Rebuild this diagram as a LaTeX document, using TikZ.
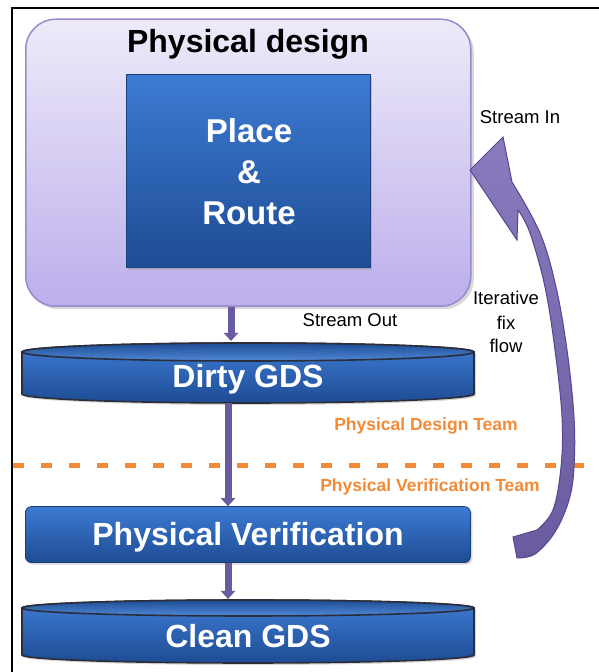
\documentclass[tikz,border=0pt]{standalone}
\usepackage{fontspec}
\setmainfont{Liberation Sans}
\usetikzlibrary{arrows.meta,shadows}
\definecolor{pdtop}{HTML}{EEEAF9}
\definecolor{pdbot}{HTML}{BCAEEB}
\definecolor{pdedge}{HTML}{9A8ACD}
\definecolor{btop}{HTML}{3D7BD3}
\definecolor{bbot}{HTML}{1E4C94}
\definecolor{bedge}{HTML}{1B3F7A}
\definecolor{cedge}{HTML}{2A2E3A}
\definecolor{arrowc}{HTML}{6A5A9F}
\definecolor{arrowlight}{HTML}{8A7BBF}
\definecolor{arrowedge}{HTML}{574790}
\definecolor{orangec}{HTML}{F58A35}
\begin{document}
\begin{tikzpicture}[x=1pt,y=1pt,
  pdbox/.style={draw=pdedge,line width=1.5pt,rounded corners=30pt,top color=pdtop,bottom color=pdbot,
    drop shadow={shadow xshift=3pt,shadow yshift=-3pt,opacity=0.3}},
  bluebox/.style={draw=bedge,line width=0.8pt,top color=btop,bottom color=bbot,
    drop shadow={shadow xshift=2pt,shadow yshift=-2pt,opacity=0.3}},
  cylbody/.style={draw=cedge,line width=1.6pt,top color=btop,bottom color=bbot},
  cyltop/.style={draw=cedge,line width=1.6pt,top color=bbot,bottom color=btop!90!white},
  flowarrow/.style={draw=arrowc,line width=7pt,-{Triangle[width=14pt,length=8pt]}},
  bigtext/.style={font=\fontsize{32}{38}\selectfont\bfseries,text=white,anchor=base},
  titletext/.style={font=\fontsize{32}{38}\selectfont\bfseries,text=black,anchor=base},
  smalltext/.style={font=\fontsize{18.5}{22}\selectfont,text=black,anchor=base},
  teamtext/.style={font=\fontsize{17.5}{20}\selectfont\bfseries,text=orangec,anchor=base}
]
\useasboundingbox (0,0) rectangle (599,672);
\fill[white] (0,0) rectangle (599,672);
% frame
\coordinate (fbl) at (12,0);
\coordinate (ftl) at (12,664);
\coordinate (ftr) at (599,664);
\draw[black,line width=2.5pt] (fbl) -- (ftl) -- (ftr);

% physical design box
\node[pdbox,minimum width=445,minimum height=287,anchor=south west,inner sep=0pt] (pd) at (25,365) {};
\node[titletext] (pdtitle) at (248,619) {Physical design};
\node[bluebox,minimum width=244,minimum height=193,anchor=south west,inner sep=0pt] (pr) at (126,404) {};
\node[bigtext,font=\fontsize{33}{38}\selectfont\bfseries] (pr1) at (249,529) {Place};
\node[bigtext,font=\fontsize{33}{38}\selectfont\bfseries] (pr2) at (249,488) {\&};
\node[bigtext,font=\fontsize{33}{38}\selectfont\bfseries] (pr3) at (249,447) {Route};

% labels
\node[smalltext] (sin) at (520,548) {Stream In};
\node[smalltext] (it1) at (506,367) {Iterative};
\node[smalltext] (it2) at (506,342) {fix};
\node[smalltext] (it3) at (506,319) {flow};
\node[smalltext] (sout) at (350,345) {Stream Out};

% team separator
\coordinate (dl) at (13,206);
\coordinate (dr) at (599,206);
\draw[orangec,line width=5pt,dash pattern=on 11pt off 17pt] (dl) -- (dr);
\node[teamtext] (pdt) at (426,241) {Physical Design Team};
\node[teamtext] (pvt) at (430,180) {Physical Verification Team};

% dirty GDS cylinder
\path[cylbody,drop shadow={shadow xshift=2pt,shadow yshift=-2pt,opacity=0.3}]
  (22,320) -- (22,278) arc[start angle=180,end angle=360,x radius=226,y radius=9]
  -- (474,320) arc[start angle=0,end angle=180,x radius=226,y radius=9] -- cycle;
\path[cyltop] (248,320) ellipse[x radius=226,y radius=9];
\node[bigtext] (dirty) at (248,284) {Dirty GDS};
\coordinate (dirtyin) at (231,331);
\coordinate (dirtyout) at (228,269);

% physical verification box
\node[bluebox,rounded corners=6pt,minimum width=445,minimum height=56,anchor=south west,inner sep=0pt] (pv) at (25,109) {};
\node[bigtext] (pvtext) at (248,126) {Physical Verification};

% clean GDS cylinder
\path[cylbody,drop shadow={shadow xshift=2pt,shadow yshift=-2pt,opacity=0.3}]
  (22,64) -- (22,17) arc[start angle=180,end angle=360,x radius=226,y radius=8]
  -- (474,64) arc[start angle=0,end angle=180,x radius=226,y radius=8] -- cycle;
\path[cyltop] (248,64) ellipse[x radius=226,y radius=8];
\node[bigtext] (clean) at (248,24) {Clean GDS};
\coordinate (cleanin) at (228,73);

% flow arrows
\draw[flowarrow] (pd.south -| dirtyin) -- (dirtyin);
\draw[flowarrow] (dirtyout) -- (pv.north -| dirtyout);
\draw[flowarrow] (pv.south -| cleanin) -- (cleanin);

% iterative fix flow curved arrow
\path[draw=arrowedge,line width=1pt,top color=arrowlight,bottom color=arrowc]
  (470,502) -- (503,535) -- plot[smooth,tension=0.6] coordinates {(512,490) (540,439) (556,385) (567,322) (574,255) (574,205) (569,172) (555,140) (535,118) (517,114)}
  -- (513,135) -- plot[smooth,tension=0.6] coordinates {(537,142) (553,162) (561,205) (562,255) (555,322) (545,385) (530,439) (518,462)}
  -- (517,432) -- cycle;
\end{tikzpicture}
\end{document}
